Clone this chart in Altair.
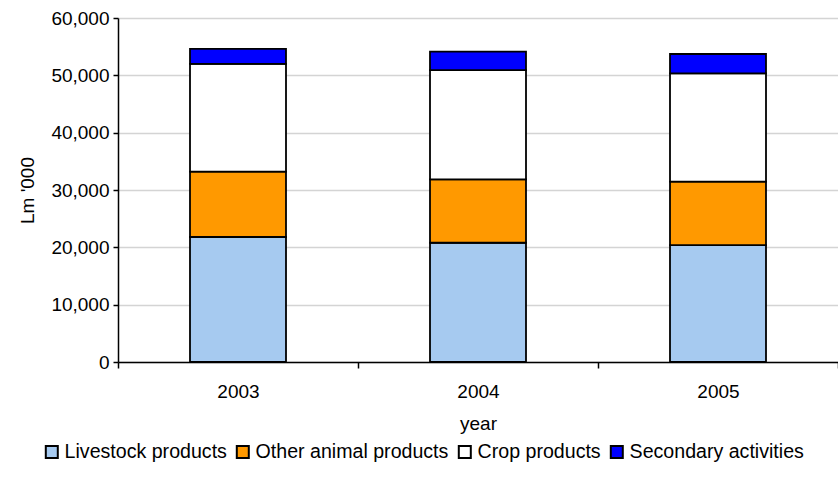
import altair as alt
import pandas as pd

years = ["2003", "2004", "2005"]
categories = ["Livestock products", "Other animal products", "Crop products", "Secondary activities"]
colors = ["#A6CAF0", "#FF9900", "#FFFFFF", "#0000FF"]
livestock = [21800, 20800, 20400]
other_animal = [11400, 11050, 11050]
crop = [18800, 19050, 18900]
secondary = [2600, 3250, 3370]

series = [livestock, other_animal, crop, secondary]
rows = []
for ci, (cat, vals) in enumerate(zip(categories, series)):
    for y, v in zip(years, vals):
        rows.append({"year": y, "category": cat, "value": v, "order": ci})
df = pd.DataFrame(rows)

FONT = "Liberation Sans"

chart = alt.Chart(df).mark_bar(stroke="black", strokeWidth=1.8, width=alt.RelativeBandSize(0.4)).encode(
    x=alt.X("year:N", title="year",
            scale=alt.Scale(paddingInner=0, paddingOuter=0),
            axis=alt.Axis(labelAngle=0, tickBand="extent", labelFontSize=19, titleFontSize=19,
                          labelFont=FONT, titleFont=FONT, labelColor="black", titleColor="black",
                          titleFontWeight="normal", domainColor="black", tickColor="black",
                          tickSize=6, labelPadding=14, titlePadding=13, domainWidth=1.5, tickWidth=1.5)),
    y=alt.Y("value:Q", title="Lm '000", stack="zero",
            scale=alt.Scale(domain=[0, 60000], nice=False),
            axis=alt.Axis(values=[0, 10000, 20000, 30000, 40000, 50000, 60000], format=",.0f",
                          labelFontSize=19, titleFontSize=19, labelFont=FONT, titleFont=FONT,
                          labelColor="black", titleColor="black", titleFontWeight="normal",
                          domainColor="black", tickColor="black", tickSize=5, domainWidth=1.5,
                          tickWidth=1.5, gridColor="#d4d4d4", gridWidth=1.5, labelPadding=4,
                          titlePadding=13)),
    color=alt.Color("category:N",
                    scale=alt.Scale(domain=categories, range=colors),
                    legend=alt.Legend(title=None, orient="none", direction="horizontal",
                                      legendX=-76, legendY=424, symbolType="square",
                                      symbolStrokeColor="black", symbolStrokeWidth=2,
                                      symbolSize=144, labelFontSize=19.6, labelFont=FONT,
                                      labelColor="black", labelOffset=3, columnPadding=5,
                                      symbolOpacity=1, labelLimit=400)),
    order=alt.Order("order:Q", sort="ascending"),
).properties(
    width=720, height=344,
    autosize=alt.AutoSizeParams(type="none"),
    padding={"left": 118, "top": 18, "right": 0, "bottom": 128},
).configure_view(stroke=None)

chart.save("out.html", embed_options={"renderer": "svg", "actions": False})
